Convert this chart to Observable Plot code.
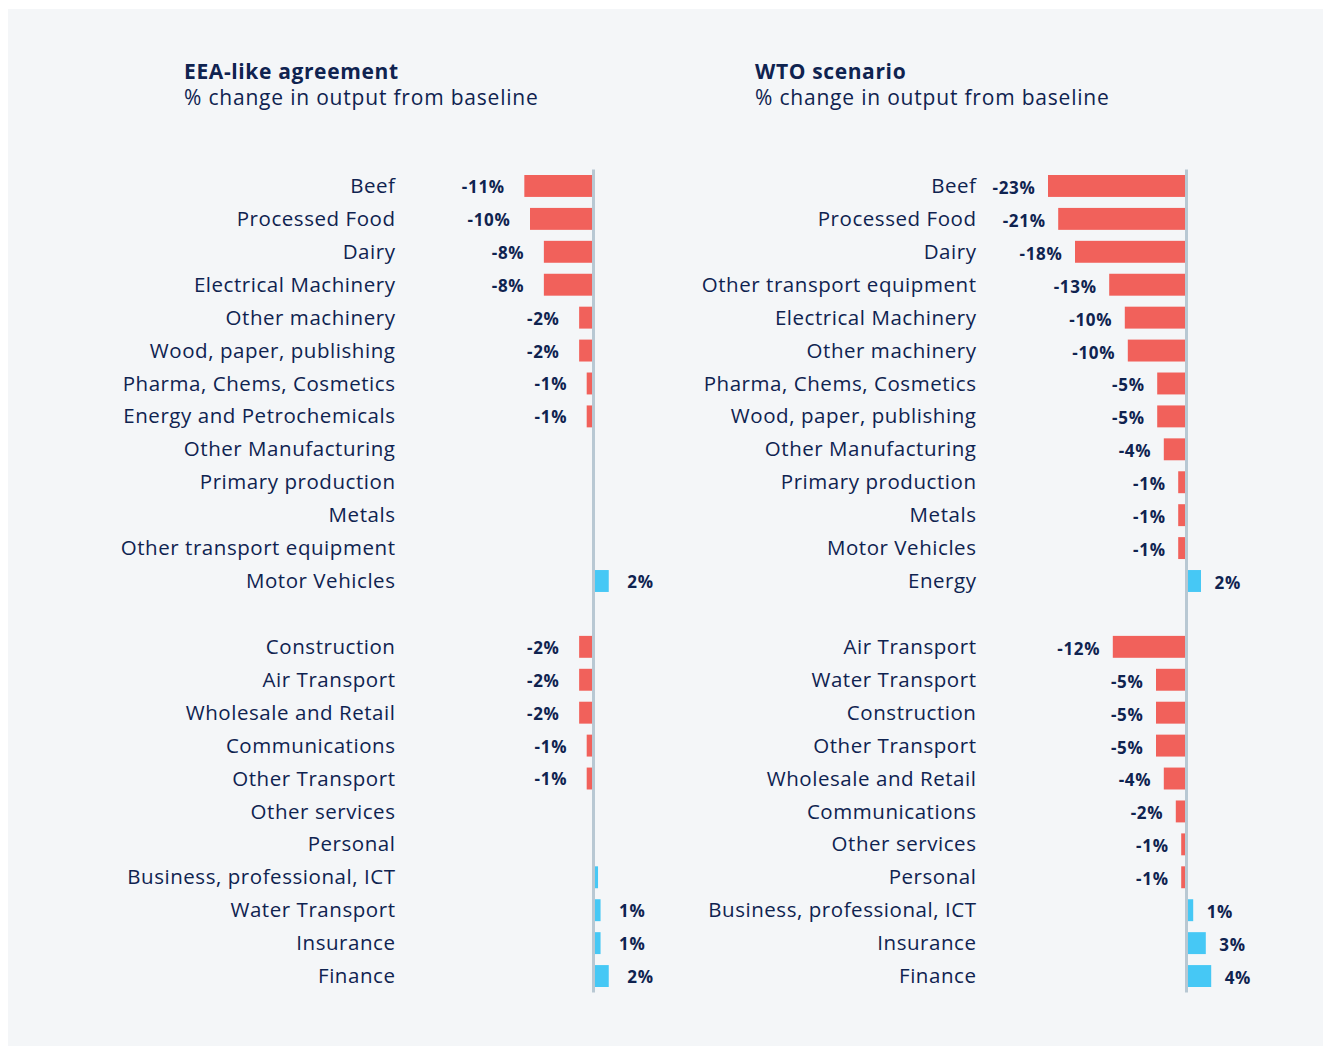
<!DOCTYPE html>
<html><head><meta charset="utf-8">
<script src="https://cdn.jsdelivr.net/npm/d3@7"></script>
<script src="https://cdn.jsdelivr.net/npm/@observablehq/plot@0.6"></script>
<style>
body{margin:0;background:#fff;font-family:"Open Sans",sans-serif;}
#wrap{position:relative;width:1329px;height:1047px;overflow:hidden;}
#panel{position:absolute;left:8px;top:9px;width:1315px;height:1037px;background:#f4f6f8;}
.title{position:absolute;color:#0f2350;font-size:21px;line-height:26px;white-space:nowrap;letter-spacing:0.8px;}
.title b{font-weight:700;letter-spacing:0.63px;}
.chart{position:absolute;top:0;}
.chart svg g[aria-label="y-axis tick label"] text{letter-spacing:0.55px;}
.chart svg g.vlab text{letter-spacing:0.7px;}
</style></head>
<body><div id="wrap"><div id="panel"></div>
<div class="title" style="left:184px;top:58px"><b>EEA-like agreement</b><br>% change in output from baseline</div>
<div class="title" style="left:755px;top:58px"><b>WTO scenario</b><br>% change in output from baseline</div>
<div class="chart" id="left" style="left:0px"></div>
<div class="chart" id="right" style="left:665px"></div>
</div>
<script>
const eeaSectors = ["Beef","Processed Food","Dairy","Electrical Machinery","Other machinery","Wood, paper, publishing","Pharma, Chems, Cosmetics","Energy and Petrochemicals","Other Manufacturing","Primary production","Metals","Other transport equipment","Motor Vehicles"," ","Construction","Air Transport","Wholesale and Retail","Communications","Other Transport","Other services","Personal","Business, professional, ICT","Water Transport","Insurance","Finance"];
const eeaValues = [-10.9,-10.0,-7.8,-7.8,-2.2,-2.2,-1.0,-1.0,0,0,0,0,2.5,null,-2.2,-2.2,-2.2,-1.0,-1.0,0,0,0.8,1.2,1.2,2.5];
const eeaLabels = ["-11%","-10%","-8%","-8%","-2%","-2%","-1%","-1%","","","","","2%","","-2%","-2%","-2%","-1%","-1%","","","","1%","1%","2%"];

const wtoSectors = ["Beef","Processed Food","Dairy","Other transport equipment","Electrical Machinery","Other machinery","Pharma, Chems, Cosmetics","Wood, paper, publishing","Other Manufacturing","Primary production","Metals","Motor Vehicles","Energy"," ","Air Transport","Water Transport","Construction","Other Transport","Wholesale and Retail","Communications","Other services","Personal","Business, professional, ICT","Insurance","Finance"];
const wtoValues = [-23.0,-21.3,-18.5,-12.8,-10.2,-9.7,-4.8,-4.8,-3.7,-1.3,-1.3,-1.3,2.5,null,-12.2,-5.0,-5.0,-5.0,-3.7,-1.7,-0.8,-0.8,1.2,3.3,4.2];
const wtoLabels = ["-23%","-21%","-18%","-13%","-10%","-10%","-5%","-5%","-4%","-1%","-1%","-1%","2%","","-12%","-5%","-5%","-5%","-4%","-2%","-1%","-1%","1%","3%","4%"];

const RED = "#f1615b", BLUE = "#46c8f5", NAVY = "#0f2350", AXIS = "#b8c8d3";

function panel(sectors, values, labels, opt) {
  const data = sectors.map((s, i) => ({sector: s, value: values[i], label: labels[i]}));
  const neg = data.filter(d => d.value != null && d.value < 0);
  const pos = data.filter(d => d.value != null && d.value > 0);
  return Plot.plot({
    width: opt.width, height: 1047,
    marginTop: 169.5, marginBottom: 54.5,
    marginLeft: opt.marginLeft, marginRight: opt.marginRight,
    style: {fontFamily: '"Open Sans", sans-serif', color: NAVY, background: "transparent", overflow: "visible"},
    x: {domain: opt.domain, axis: null},
    y: {domain: sectors, padding: 0, round: false, label: null},
    marks: [
      Plot.axisY({tickSize: 0, tickPadding: opt.tickPadding, fontSize: 20.5, label: null, tickFormat: d => d.trim()}),
      Plot.barX(neg, {x: "value", y: "sector", fill: RED, insetTop: 5.5, insetBottom: 5.5}),
      Plot.barX(pos, {x: "value", y: "sector", fill: BLUE, insetTop: 5.5, insetBottom: 5.5}),
      Plot.ruleX([0], {stroke: AXIS, strokeWidth: 3}),
      Plot.text(neg, {x: "value", y: "sector", text: "label", textAnchor: "end", dx: opt.dxNeg, dy: opt.dy, fontSize: 17, fontWeight: 700, fill: NAVY, className: "vlab"}),
      Plot.text(pos, {x: "value", y: "sector", text: "label", textAnchor: "start", dx: opt.dxPos, dy: opt.dy, fontSize: 17, fontWeight: 700, fill: NAVY, className: "vlab"})
    ]
  });
}

document.getElementById("left").appendChild(panel(eeaSectors, eeaValues, eeaLabels,
  {width: 665, domain: [-20, 8], marginLeft: 467, marginRight: 21.6, tickPadding: 72, dy: 1, dxNeg: -20, dxPos: 18}));
document.getElementById("right").appendChild(panel(wtoSectors, wtoValues, wtoLabels,
  {width: 664, domain: [-26, 6], marginLeft: 365, marginRight: 107, tickPadding: 54, dy: 2, dxNeg: -13, dxPos: 13}));
</script>
</body></html>
